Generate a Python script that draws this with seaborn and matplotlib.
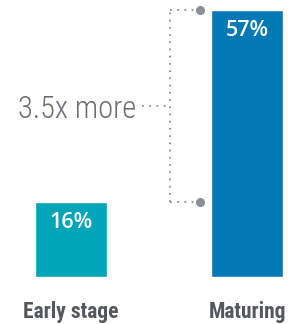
import matplotlib
matplotlib.use('Agg')
import matplotlib.pyplot as plt
import seaborn as sns
import pandas as pd

categories = ['Early stage', 'Maturing']
values = [16, 57]
value_labels = ['16%', '57%']
bar_colors = ['#00A5B8', '#0079B4']
note_text = '3.5x more'

sns.set_style('white')
plt.rcParams['font.family'] = ['Open Sans', 'DejaVu Sans']
narrow = ['Roboto Condensed', 'Open Sans Condensed', 'Roboto', 'DejaVu Sans']

df = pd.DataFrame({'stage': categories, 'share': values})

fig = plt.figure(figsize=(2.91, 3.24), dpi=100)
ax = fig.add_axes([0, 47 / 324, 1, 277 / 324])

sns.barplot(data=df, x='stage', y='share', hue='stage', palette=bar_colors,
            width=72 / 176, saturation=1, legend=False, ax=ax)

ax.set_xlim(-71 / 176, 220 / 176)
ax.set_ylim(0, 57 * 277 / 267)
sns.despine(ax=ax, left=True, bottom=True)
ax.set_yticks([])
ax.set_xlabel('')
ax.set_ylabel('')
ax.tick_params(axis='x', length=0, pad=17)
for lab in ax.get_xticklabels():
    lab.set_family(narrow)
    lab.set_fontweight('bold')
    lab.set_fontsize(15.5)
    lab.set_color('#54585d')

# value labels inside bars
for i, (v, t) in enumerate(zip(values, value_labels)):
    ax.annotate(t, xy=(i, v), xytext=(0, -15), textcoords='offset points',
                ha='center', va='center', color='white', fontsize=15.5,
                fontweight='semibold')

# bracket between the two bar tops
grey = '#8c8f93'
bx = (170 - 71) / 176
dx = (200 - 71) / 176
mid = (values[0] + values[1]) / 2
ax.plot([bx, bx], [values[0], values[1]], color=grey, lw=1.3, ls=(0, (1, 3)))
for v in values:
    ax.plot([bx, dx], [v, v], color=grey, lw=1.3, ls=(0, (1, 3)))
    ax.plot([dx], [v], 'o', color=grey, ms=5.5)
ax.plot([(142 - 71) / 176, bx], [mid, mid], color=grey, lw=1.3, ls=(0, (1, 3)))
ax.text((136 - 71) / 176, mid - 0.8, note_text, ha='right', va='center',
        fontsize=22, color='#6b6e72', fontweight='light', family=narrow)

fig.savefig('out.png', dpi=100)
